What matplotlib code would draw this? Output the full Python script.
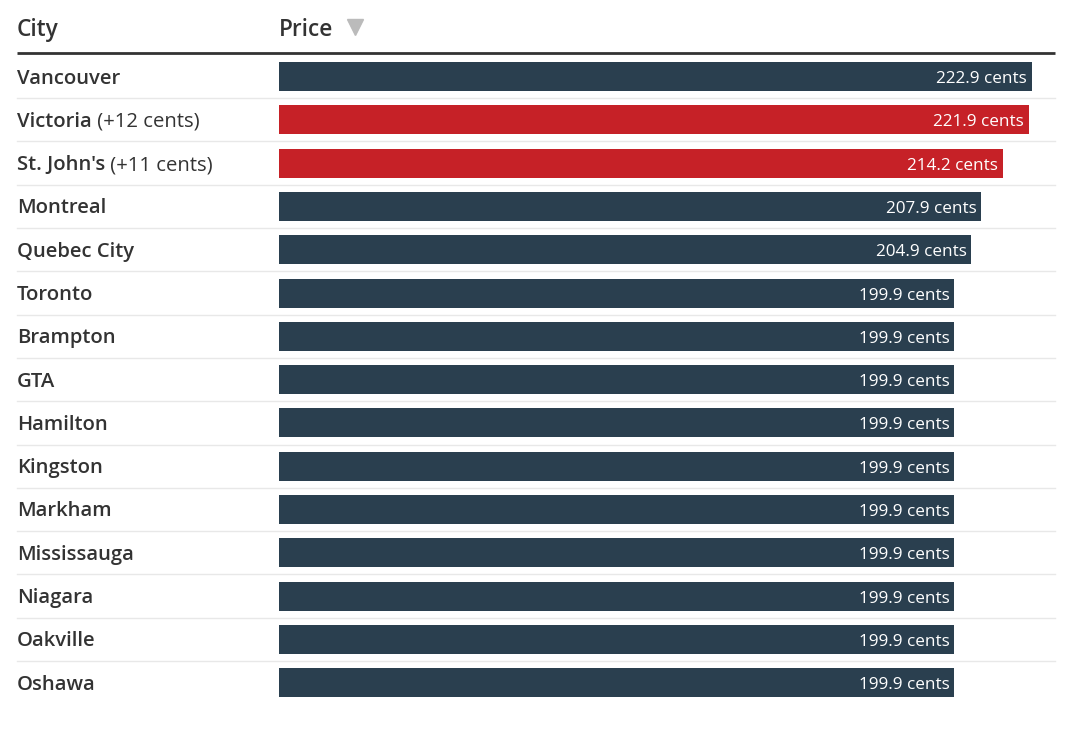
import matplotlib.pyplot as plt
import numpy as np

plt.rcParams["font.family"] = ["Open Sans", "DejaVu Sans"]

cities = ["Vancouver", "Victoria", "St. John's", "Montreal", "Quebec City",
          "Toronto", "Brampton", "GTA", "Hamilton", "Kingston", "Markham",
          "Mississauga", "Niagara", "Oakville", "Oshawa"]
notes = ["", "(+12 cents)", "(+11 cents)", "", "", "", "", "", "", "", "",
         "", "", "", ""]
prices = [222.9, 221.9, 214.2, 207.9, 204.9, 199.9, 199.9, 199.9, 199.9,
          199.9, 199.9, 199.9, 199.9, 199.9, 199.9]
highlight = [False, True, True] + [False] * 12

DARK = "#2a3f4f"
RED = "#c62127"
TEXT = "#333333"

W, H = 1080, 730
px_per_cent = 3.378
x0_px = 279
row_px = 43.3
row0_px = 76.5

fig = plt.figure(figsize=(W / 100, H / 100), dpi=100)
ax = fig.add_axes([0, 0, 1, 1])
ax.set_xlim(-x0_px / px_per_cent, (W - x0_px) / px_per_cent)
ax.set_ylim((H - row0_px) / row_px, -row0_px / row_px)
ax.axis("off")


def px_x(px):
    return (px - x0_px) / px_per_cent


def px_y(px):
    return (px - row0_px) / row_px


y = np.arange(len(cities))
colors = [RED if h else DARK for h in highlight]
ax.barh(y, prices, height=29 / row_px, left=0, color=colors)

left = px_x(17)
right = px_x(1055)
dy = 2 / row_px

for i, (city, note, p) in enumerate(zip(cities, notes, prices)):
    t = ax.text(left, i + dy, city, ha="left", va="center", fontsize=14.6,
                fontweight="semibold", color=TEXT)
    if note:
        ax.annotate(" " + note, xycoords=t, xy=(1, 0.5), ha="left",
                    va="center", fontsize=14.6, color=TEXT)
    ax.text(p - 1.4, i + 2.6 / row_px, f"{p:.1f} cents", ha="right",
            va="center", fontsize=12.3, color="white")
    if i < len(cities) - 1:
        ax.plot([left, right], [i + 0.5, i + 0.5], color="#e8e8e8", lw=1)

# header
hy = px_y(29.5)
ax.text(left, hy, "City", ha="left", va="center", fontsize=16.3,
        fontweight="semibold", color=TEXT)
ax.text(0, hy, "Price", ha="left", va="center", fontsize=16.3,
        fontweight="semibold", color=TEXT)
ax.plot([px_x(355)], [px_y(27)], marker="v", markersize=11, color="#bbbbbb")
ax.plot([left, right], [px_y(53), px_y(53)], color="#333333", lw=2,
        solid_capstyle="butt")

fig.savefig("out.png", dpi=100)
